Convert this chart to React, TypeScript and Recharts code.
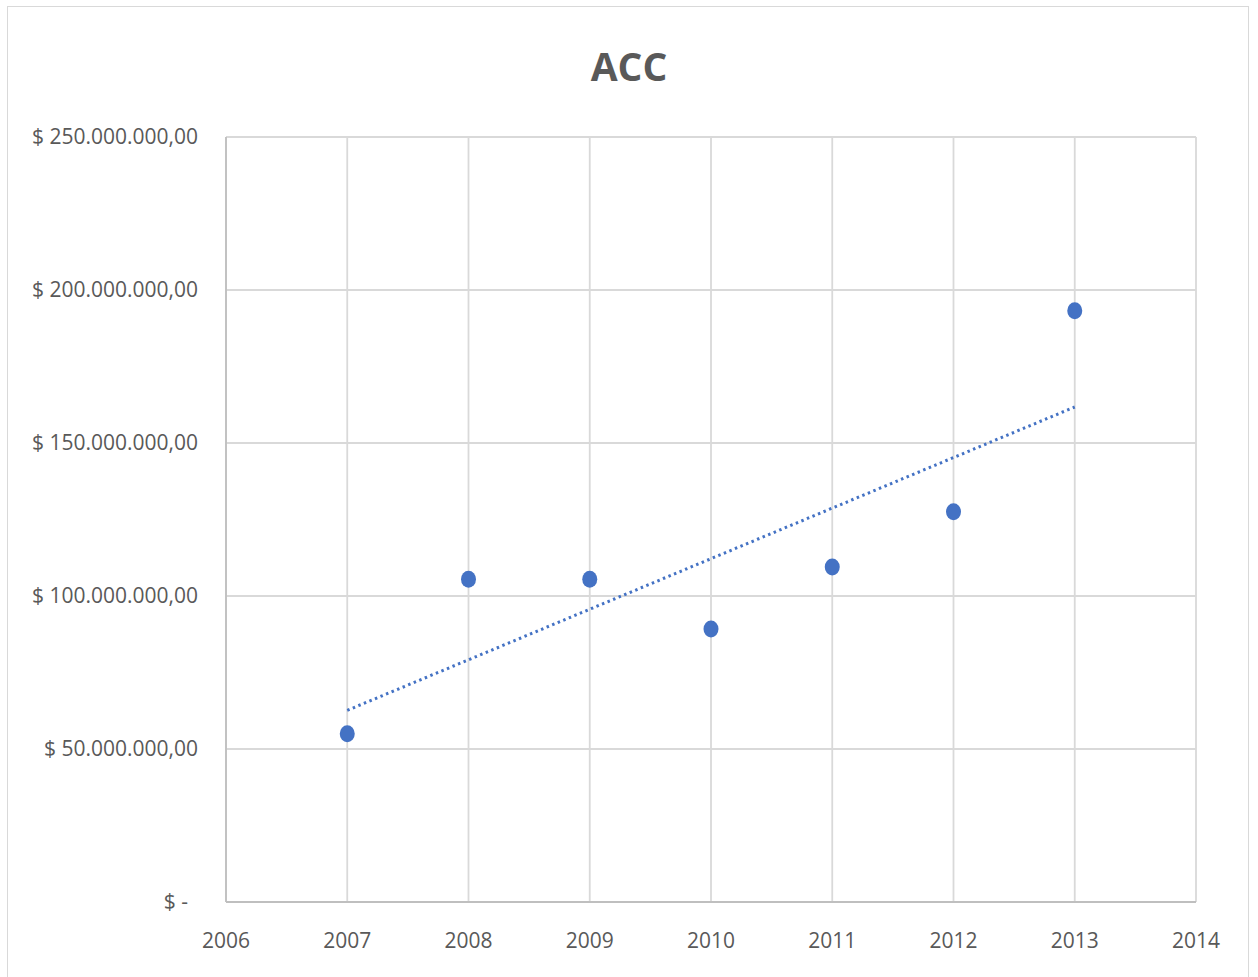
import React from 'react';
import { ScatterChart, Scatter, XAxis, YAxis, CartesianGrid } from 'recharts';

const years = [2007, 2008, 2009, 2010, 2011, 2012, 2013];
const accValues = [55000000, 105500000, 105500000, 89200000, 109500000, 127500000, 193200000];
const xTicks = [2006, 2007, 2008, 2009, 2010, 2011, 2012, 2013, 2014];
const yTicks = [0, 50000000, 100000000, 150000000, 200000000, 250000000];

const points = years.map((year, i) => ({ year, value: accValues[i] }));

// linear trendline (least squares) over the points
const n = years.length;
const meanX = years.reduce((s, v) => s + v, 0) / n;
const meanY = accValues.reduce((s, v) => s + v, 0) / n;
const slope =
  years.reduce((s, x, i) => s + (x - meanX) * (accValues[i] - meanY), 0) /
  years.reduce((s, x) => s + (x - meanX) * (x - meanX), 0);
const fit = (x: number) => meanY + slope * (x - meanX);
const trend = [years[0], years[n - 1]].map(year => ({ year, value: fit(year) }));

const fontFamily = '"Open Sans", sans-serif';
const textColor = '#595959';

const formatMoney = (v: number) => {
  if (v === 0) return '$ -';
  const s = Math.round(v).toString().replace(/\B(?=(\d{3})+(?!\d))/g, '.');
  return `$ ${s},00`;
};

const YTick = (props: any) => {
  const { x, y, payload } = props;
  const shift = payload.value === 0 ? -10 : 0;
  return (
    <text
      x={x + shift}
      y={y}
      dy="0.35em"
      textAnchor="end"
      fill={textColor}
      fontSize={21}
      fontFamily={fontFamily}
    >
      {formatMoney(payload.value)}
    </text>
  );
};

const Dot = (props: any) => {
  const { cx, cy } = props;
  if (cx == null || cy == null) return <g />;
  return <ellipse cx={cx} cy={cy} rx={7.5} ry={8.5} fill="#4472C4" />;
};

export default function App() {
  return (
    <div style={{ position: 'absolute', left: 0, top: 0, width: 1258, height: 977, background: '#fff' }}>
      <div
        style={{
          position: 'absolute',
          left: 7,
          top: 6,
          width: 1242,
          height: 975,
          border: '1.5px solid #d9d9d9',
          boxSizing: 'border-box',
        }}
      />
      <div
        style={{
          position: 'absolute',
          left: 0,
          top: 40,
          width: 1258,
          textAlign: 'center',
          fontFamily,
          fontWeight: 700,
          fontSize: 39,
          color: textColor,
          lineHeight: '52px',
        }}
      >
        ACC
      </div>
      <div style={{ position: 'absolute', left: 0, top: 0 }}>
        <ScatterChart width={1258} height={977} margin={{ top: 137, right: 62, bottom: 0, left: 0 }}>
          <CartesianGrid stroke="#d9d9d9" strokeWidth={1.8} />
          <XAxis
            type="number"
            dataKey="year"
            domain={[2006, 2014]}
            ticks={xTicks}
            height={75}
            tickLine={false}
            tickSize={0}
            tickMargin={31}
            axisLine={{ stroke: '#bfbfbf', strokeWidth: 1.8 }}
            tick={{ fill: textColor, fontSize: 21, fontFamily }}
            allowDataOverflow
          />
          <YAxis
            type="number"
            dataKey="value"
            domain={[0, 250000000]}
            ticks={yTicks}
            width={226}
            tickLine={false}
            tickSize={0}
            tickMargin={28}
            axisLine={{ stroke: '#bfbfbf', strokeWidth: 1.8 }}
            tick={<YTick />}
            allowDataOverflow
          />
          <Scatter
            data={trend}
            line={{ stroke: '#4472C4', strokeWidth: 3, strokeDasharray: '2.5 3.5' }}
            shape={() => <g />}
            isAnimationActive={false}
          />
          <Scatter data={points} shape={<Dot />} isAnimationActive={false} />
        </ScatterChart>
      </div>
    </div>
  );
}
